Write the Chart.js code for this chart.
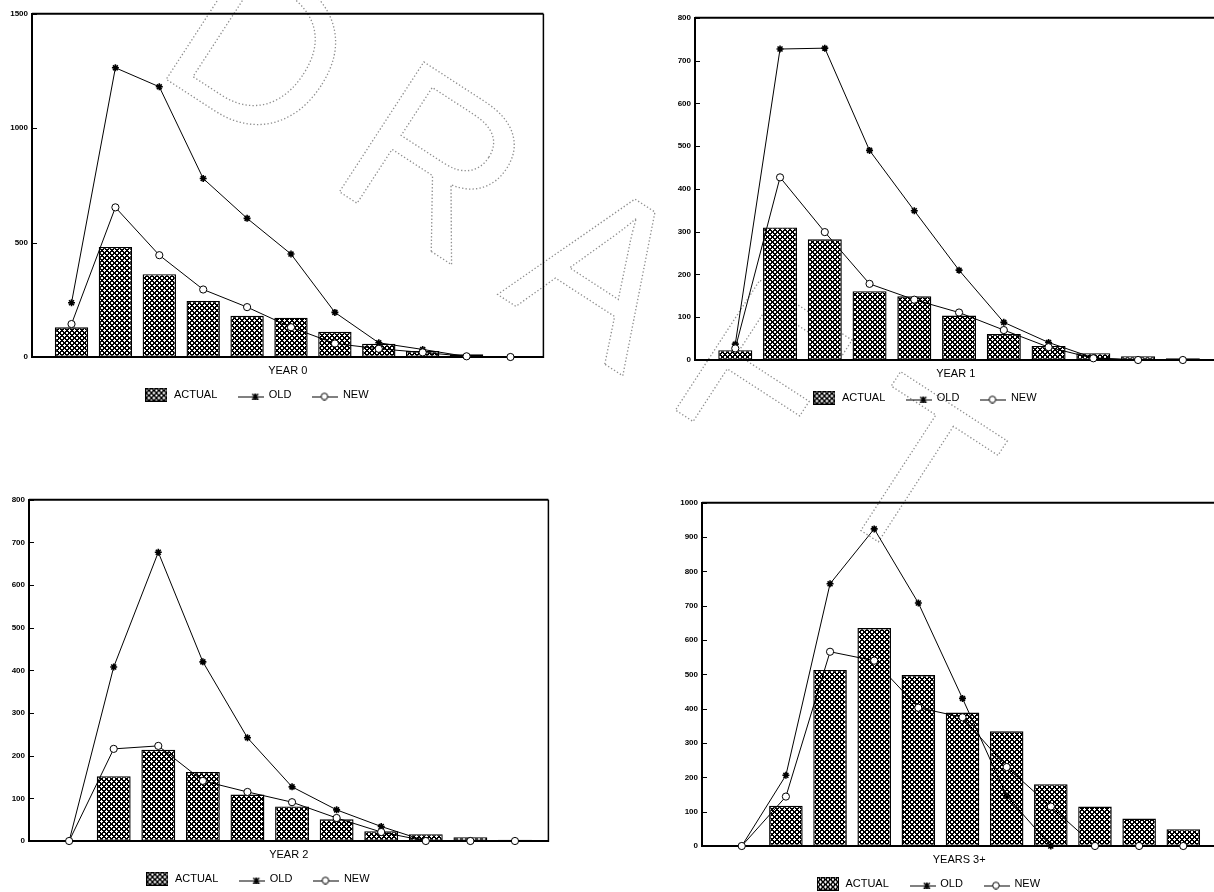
<!DOCTYPE html>
<html>
<head>
<meta charset="utf-8">
<script src="https://cdn.jsdelivr.net/npm/chart.js@4/dist/chart.umd.min.js"></script>
<style>
html, body { margin: 0; padding: 0; background: #fff; }
body { width: 1214px; height: 892px; position: relative; overflow: hidden; }
#wm { position: absolute; left: 0; top: 0; }
canvas.panel { position: absolute; }
</style>
</head>
<body>
<svg id="wm" width="1214" height="892" xmlns="http://www.w3.org/2000/svg">
  <text x="0" y="0" transform="translate(600,268) rotate(33)" text-anchor="middle" dominant-baseline="central"
        font-family="Liberation Sans, Arial, sans-serif" font-size="225" letter-spacing="44"
        fill="none" stroke="#8f8f8f" stroke-width="1.3" stroke-dasharray="1.3 2.2">DRAFT</text>
</svg>
<canvas id="c0" class="panel"></canvas>
<canvas id="c1" class="panel"></canvas>
<canvas id="c2" class="panel"></canvas>
<canvas id="c3" class="panel"></canvas>
<script>
// ---------------- data ----------------
const categories = [1, 2, 3, 4, 5, 6, 7, 8, 9, 10, 11];
const seriesNames = ['ACTUAL', 'OLD', 'NEW'];
const panelTitles = ['YEAR 0', 'YEAR 1', 'YEAR 2', 'YEARS 3+'];

const year0Actual = [130, 481, 362, 245, 180, 172, 110, 58, 26, 12, 4];
const year0Old    = [237, 1264, 1181, 780, 606, 450, 195, 62, 33, 2, 0];
const year0New    = [144, 654, 445, 295, 218, 130, 59, 36, 20, 3, 0];
const year0Ticks  = [0, 500, 1000, 1500];

const year1Actual = [23, 310, 282, 161, 149, 104, 61, 33, 16, 9, 4];
const year1Old    = [37, 727, 729, 490, 349, 210, 88, 41, 5, 0, 0];
const year1New    = [27, 427, 299, 178, 141, 111, 70, 30, 4, 0, 0];
const year1Ticks  = [0, 100, 200, 300, 400, 500, 600, 700, 800];

const year2Actual = [0, 152, 214, 162, 109, 81, 51, 23, 16, 9, 3];
const year2Old    = [0, 408, 677, 420, 242, 127, 73, 34, 0, 0, 0];
const year2New    = [0, 216, 223, 141, 115, 91, 54, 21, 0, 0, 0];
const year2Ticks  = [0, 100, 200, 300, 400, 500, 600, 700, 800];

const year3Actual = [0, 117, 513, 635, 498, 389, 334, 180, 115, 80, 49];
const year3Old    = [0, 206, 764, 924, 708, 430, 146, 0, 0, 0, 0];
const year3New    = [0, 144, 566, 540, 403, 375, 230, 115, 0, 0, 0];
const year3Ticks  = [0, 100, 200, 300, 400, 500, 600, 700, 800, 900, 1000];

// ---------------- layout (plot-area frames on the page) ----------------
const FONT = '"Liberation Sans", Arial, sans-serif';
const frames = [
  { left: 31.7, top: 13.3, right: 543, bottom: 356.7 },
  { left: 695, top: 17.3, right: 1216, bottom: 359.3 },
  { left: 28.6, top: 499.3, right: 548.2, bottom: 840.7 },
  { left: 701.5, top: 502.3, right: 1216, bottom: 845 }
];
const Y_AXIS_W = 66;

// ---------------- drawing helpers ----------------
function hatchTile() {
  const n = 5;
  const c = document.createElement('canvas');
  c.width = n; c.height = n;
  const g = c.getContext('2d');
  g.fillStyle = '#fff'; g.fillRect(0, 0, n, n);
  g.fillStyle = '#000';
  for (let x = 0; x < n; x++) {
    for (let y = 0; y < n; y++) {
      const a = (x + y) % n, b = (x - y + n) % n;
      if (a <= 1 || b <= 1) g.fillRect(x, y, 1, 1);
    }
  }
  return c;
}
const TILE = hatchTile();

function iconActual() {
  const c = document.createElement('canvas');
  c.width = 22; c.height = 14;
  const g = c.getContext('2d');
  g.fillStyle = g.createPattern(TILE, 'repeat');
  g.fillRect(0, 0, 22, 14);
  g.strokeStyle = '#000'; g.lineWidth = 1;
  g.strokeRect(0.5, 0.5, 21, 13);
  return c;
}
function iconOld() {
  const c = document.createElement('canvas');
  c.width = 26; c.height = 10;
  const g = c.getContext('2d');
  g.strokeStyle = '#000'; g.lineWidth = 1;
  g.beginPath(); g.moveTo(0, 7.5); g.lineTo(26, 7.5); g.stroke();
  g.lineWidth = 1.6;
  g.beginPath();
  g.moveTo(14, 4.5); g.lineTo(20, 10);
  g.moveTo(20, 4.5); g.lineTo(14, 10);
  g.moveTo(17, 4); g.lineTo(17, 10.5);
  g.stroke();
  return c;
}
function iconNew() {
  const c = document.createElement('canvas');
  c.width = 26; c.height = 12;
  const g = c.getContext('2d');
  g.strokeStyle = '#000'; g.lineWidth = 1;
  g.beginPath(); g.moveTo(0, 8.5); g.lineTo(26, 8.5); g.stroke();
  g.fillStyle = '#fff';
  g.beginPath(); g.arc(12, 8, 3.3, 0, Math.PI * 2); g.fill(); g.stroke();
  return c;
}

const framePlugin = {
  id: 'frame',
  afterDatasetsDraw(chart) {
    const { ctx, chartArea: a } = chart;
    const ys = chart.scales.y;
    ctx.save();
    ctx.strokeStyle = '#000';
    ctx.lineWidth = 2;
    ctx.beginPath(); ctx.moveTo(a.left, a.top); ctx.lineTo(a.right, a.top); ctx.stroke();
    ctx.lineWidth = 1.5;
    ctx.beginPath(); ctx.moveTo(a.right, a.top); ctx.lineTo(a.right, a.bottom + 1); ctx.stroke();
    ctx.lineWidth = 1;
    ys.ticks.forEach(t => {
      const py = Math.round(ys.getPixelForValue(t.value)) + 0.5;
      ctx.beginPath(); ctx.moveTo(a.left, py); ctx.lineTo(a.left + 5, py); ctx.stroke();
    });
    ctx.restore();
  }
};

function buildConfig(canvas, title, actual, old, nw, yTicks) {
  const pattern = canvas.getContext('2d').createPattern(TILE, 'repeat');
  return {
    type: 'bar',
    data: {
      labels: categories,
      datasets: [
        { type: 'bar', label: seriesNames[0], data: actual, order: 3,
          backgroundColor: pattern, borderColor: '#000', borderWidth: 1.4, borderSkipped: false,
          barPercentage: 0.76, categoryPercentage: 1, legendIcon: iconActual() },
        { type: 'line', label: seriesNames[1], data: old, order: 2, clip: false,
          borderColor: '#000', borderWidth: 1, tension: 0, fill: false,
          pointStyle: 'star', pointRadius: 3.5, pointBorderWidth: 1.6,
          pointBorderColor: '#000', pointBackgroundColor: '#000', legendIcon: iconOld() },
        { type: 'line', label: seriesNames[2], data: nw, order: 1, clip: false,
          borderColor: '#000', borderWidth: 1, tension: 0, fill: false,
          pointStyle: 'circle', pointRadius: 3.6, pointBorderWidth: 1,
          pointBorderColor: '#000', pointBackgroundColor: '#fff', legendIcon: iconNew() }
      ]
    },
    options: {
      responsive: false,
      animation: false,
      devicePixelRatio: 1,
      layout: { padding: { left: 0, right: 2, top: 2, bottom: 4 } },
      scales: {
        x: {
          type: 'linear', min: 0.1, max: 11.75, offset: false,
          afterBuildTicks: s => { s.ticks = categories.map(v => ({ value: v })); },
          afterFit: s => { s.height = 10; },
          ticks: { display: false },
          grid: { display: false, drawTicks: false, offset: false },
          border: { display: true, color: '#000', width: 2 },
          title: { display: true, text: title, color: '#000',
                   font: { family: FONT, size: 11 }, padding: { top: 0, bottom: -10.6 } }
        },
        y: {
          min: yTicks[0], max: yTicks[yTicks.length - 1],
          afterBuildTicks: s => { s.ticks = yTicks.map(v => ({ value: v })); },
          afterFit: s => { s.width = Y_AXIS_W; },
          ticks: { color: '#000', padding: 4, font: { family: FONT, size: 8, weight: 'bold' },
                   callback: v => String(v) },
          grid: { display: false, drawTicks: false },
          border: { display: true, color: '#000', width: 2 }
        }
      },
      plugins: {
        tooltip: { enabled: false },
        legend: {
          display: true, position: 'bottom',
          labels: {
            usePointStyle: true, pointStyleWidth: 24, padding: 22, color: '#000',
            font: { family: FONT, size: 11 },
            generateLabels: chart => chart.data.datasets.map((ds, i) => ({
              text: ds.label, pointStyle: ds.legendIcon, datasetIndex: i, hidden: false,
              lineWidth: 0, strokeStyle: 'rgba(0,0,0,0)', fillStyle: 'rgba(0,0,0,0)', fontColor: '#000'
            }))
          }
        }
      }
    },
    plugins: [framePlugin]
  };
}

function makePanel(idx, actual, old, nw, yTicks) {
  const canvas = document.getElementById('c' + idx);
  const f = frames[idx];
  const w0 = Math.round(f.right - f.left + Y_AXIS_W + 2);
  const h0 = Math.round(f.bottom - f.top + 60);
  canvas.width = w0; canvas.height = h0;
  let chart = new Chart(canvas, buildConfig(canvas, panelTitles[idx], actual, old, nw, yTicks));
  const a = chart.chartArea;
  const w1 = Math.round(w0 + (f.right - f.left) - (a.right - a.left));
  const h1 = Math.round(h0 + (f.bottom - f.top) - (a.bottom - a.top));
  chart.destroy();
  canvas.width = w1; canvas.height = h1;
  chart = new Chart(canvas, buildConfig(canvas, panelTitles[idx], actual, old, nw, yTicks));
  const b = chart.chartArea;
  canvas.style.left = Math.round(f.left - b.left) + 'px';
  canvas.style.top = Math.round(f.top - b.top) + 'px';
  return chart;
}

makePanel(0, year0Actual, year0Old, year0New, year0Ticks);
makePanel(1, year1Actual, year1Old, year1New, year1Ticks);
makePanel(2, year2Actual, year2Old, year2New, year2Ticks);
makePanel(3, year3Actual, year3Old, year3New, year3Ticks);
</script>
</body>
</html>
